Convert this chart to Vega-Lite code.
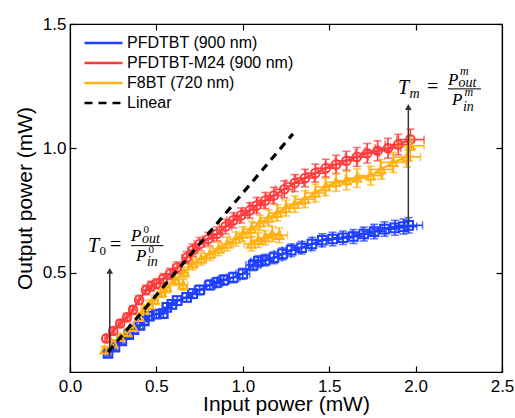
{
  "$schema": "https://vega.github.io/schema/vega-lite/v6.json",
  "width": 432,
  "height": 348,
  "autosize": {"type": "none"},
  "padding": {"left": 70, "top": 24, "right": 13, "bottom": 46},
  "background": "white",
  "datasets": {
    "main": [
      {"s": "PFDTBT (900 nm)", "r": 1, "x": 0.22, "y": 0.175, "ex": 0.01, "ey": 0.012},
      {"s": "PFDTBT (900 nm)", "r": 1, "x": 0.26, "y": 0.2, "ex": 0.01, "ey": 0.012},
      {"s": "PFDTBT (900 nm)", "r": 1, "x": 0.3, "y": 0.225, "ex": 0.012, "ey": 0.013},
      {"s": "PFDTBT (900 nm)", "r": 1, "x": 0.34, "y": 0.25, "ex": 0.013, "ey": 0.013},
      {"s": "PFDTBT (900 nm)", "r": 1, "x": 0.37, "y": 0.27, "ex": 0.014, "ey": 0.014},
      {"s": "PFDTBT (900 nm)", "r": 1, "x": 0.405, "y": 0.287, "ex": 0.016, "ey": 0.014},
      {"s": "PFDTBT (900 nm)", "r": 1, "x": 0.43, "y": 0.305, "ex": 0.017, "ey": 0.015},
      {"s": "PFDTBT (900 nm)", "r": 1, "x": 0.46, "y": 0.325, "ex": 0.018, "ey": 0.015},
      {"s": "PFDTBT (900 nm)", "r": 1, "x": 0.5, "y": 0.333, "ex": 0.02, "ey": 0.016},
      {"s": "PFDTBT (900 nm)", "r": 1, "x": 0.54, "y": 0.335, "ex": 0.021, "ey": 0.016},
      {"s": "PFDTBT (900 nm)", "r": 1, "x": 0.56, "y": 0.36, "ex": 0.022, "ey": 0.017},
      {"s": "PFDTBT (900 nm)", "r": 1, "x": 0.59, "y": 0.372, "ex": 0.024, "ey": 0.017},
      {"s": "PFDTBT (900 nm)", "r": 1, "x": 0.62, "y": 0.387, "ex": 0.025, "ey": 0.018},
      {"s": "PFDTBT (900 nm)", "r": 1, "x": 0.675, "y": 0.4, "ex": 0.027, "ey": 0.018},
      {"s": "PFDTBT (900 nm)", "r": 1, "x": 0.71, "y": 0.415, "ex": 0.028, "ey": 0.019},
      {"s": "PFDTBT (900 nm)", "r": 1, "x": 0.75, "y": 0.43, "ex": 0.03, "ey": 0.019},
      {"s": "PFDTBT (900 nm)", "r": 1, "x": 0.81, "y": 0.45, "ex": 0.032, "ey": 0.02},
      {"s": "PFDTBT (900 nm)", "r": 1, "x": 0.85, "y": 0.46, "ex": 0.034, "ey": 0.02},
      {"s": "PFDTBT (900 nm)", "r": 1, "x": 0.89, "y": 0.47, "ex": 0.035, "ey": 0.021},
      {"s": "PFDTBT (900 nm)", "r": 1, "x": 0.945, "y": 0.48, "ex": 0.038, "ey": 0.021},
      {"s": "PFDTBT (900 nm)", "r": 1, "x": 1.0, "y": 0.495, "ex": 0.04, "ey": 0.022},
      {"s": "PFDTBT (900 nm)", "r": 1, "x": 1.06, "y": 0.53, "ex": 0.042, "ey": 0.022},
      {"s": "PFDTBT (900 nm)", "r": 1, "x": 1.09, "y": 0.545, "ex": 0.044, "ey": 0.023},
      {"s": "PFDTBT (900 nm)", "r": 1, "x": 1.13, "y": 0.55, "ex": 0.045, "ey": 0.023},
      {"s": "PFDTBT (900 nm)", "r": 1, "x": 1.18, "y": 0.56, "ex": 0.047, "ey": 0.024},
      {"s": "PFDTBT (900 nm)", "r": 1, "x": 1.23, "y": 0.575, "ex": 0.049, "ey": 0.024},
      {"s": "PFDTBT (900 nm)", "r": 1, "x": 1.28, "y": 0.59, "ex": 0.051, "ey": 0.025},
      {"s": "PFDTBT (900 nm)", "r": 1, "x": 1.34, "y": 0.6, "ex": 0.054, "ey": 0.025},
      {"s": "PFDTBT (900 nm)", "r": 1, "x": 1.4, "y": 0.615, "ex": 0.056, "ey": 0.026},
      {"s": "PFDTBT (900 nm)", "r": 1, "x": 1.46, "y": 0.63, "ex": 0.058, "ey": 0.026},
      {"s": "PFDTBT (900 nm)", "r": 1, "x": 1.52, "y": 0.635, "ex": 0.061, "ey": 0.027},
      {"s": "PFDTBT (900 nm)", "r": 1, "x": 1.58, "y": 0.64, "ex": 0.063, "ey": 0.027},
      {"s": "PFDTBT (900 nm)", "r": 1, "x": 1.64, "y": 0.645, "ex": 0.066, "ey": 0.028},
      {"s": "PFDTBT (900 nm)", "r": 1, "x": 1.7, "y": 0.655, "ex": 0.068, "ey": 0.028},
      {"s": "PFDTBT (900 nm)", "r": 1, "x": 1.76, "y": 0.665, "ex": 0.07, "ey": 0.029},
      {"s": "PFDTBT (900 nm)", "r": 1, "x": 1.82, "y": 0.675, "ex": 0.073, "ey": 0.029},
      {"s": "PFDTBT (900 nm)", "r": 1, "x": 1.88, "y": 0.68, "ex": 0.075, "ey": 0.03},
      {"s": "PFDTBT (900 nm)", "r": 1, "x": 1.93, "y": 0.685, "ex": 0.077, "ey": 0.03},
      {"s": "PFDTBT (900 nm)", "r": 1, "x": 1.96, "y": 0.69, "ex": 0.08, "ey": 0.031},

      {"s": "PFDTBT-M24 (900 nm)", "r": 1, "x": 0.21, "y": 0.235, "ex": 0.01, "ey": 0.013},
      {"s": "PFDTBT-M24 (900 nm)", "r": 1, "x": 0.25, "y": 0.265, "ex": 0.01, "ey": 0.014},
      {"s": "PFDTBT-M24 (900 nm)", "r": 1, "x": 0.29, "y": 0.295, "ex": 0.012, "ey": 0.015},
      {"s": "PFDTBT-M24 (900 nm)", "r": 1, "x": 0.33, "y": 0.32, "ex": 0.013, "ey": 0.016},
      {"s": "PFDTBT-M24 (900 nm)", "r": 1, "x": 0.365, "y": 0.35, "ex": 0.015, "ey": 0.017},
      {"s": "PFDTBT-M24 (900 nm)", "r": 1, "x": 0.4, "y": 0.39, "ex": 0.016, "ey": 0.018},
      {"s": "PFDTBT-M24 (900 nm)", "r": 1, "x": 0.44, "y": 0.43, "ex": 0.018, "ey": 0.019},
      {"s": "PFDTBT-M24 (900 nm)", "r": 1, "x": 0.47, "y": 0.445, "ex": 0.019, "ey": 0.02},
      {"s": "PFDTBT-M24 (900 nm)", "r": 1, "x": 0.5, "y": 0.455, "ex": 0.02, "ey": 0.02},
      {"s": "PFDTBT-M24 (900 nm)", "r": 1, "x": 0.54, "y": 0.475, "ex": 0.022, "ey": 0.021},
      {"s": "PFDTBT-M24 (900 nm)", "r": 1, "x": 0.58, "y": 0.495, "ex": 0.023, "ey": 0.022},
      {"s": "PFDTBT-M24 (900 nm)", "r": 1, "x": 0.62, "y": 0.52, "ex": 0.025, "ey": 0.023},
      {"s": "PFDTBT-M24 (900 nm)", "r": 1, "x": 0.675, "y": 0.56, "ex": 0.027, "ey": 0.024},
      {"s": "PFDTBT-M24 (900 nm)", "r": 1, "x": 0.71, "y": 0.59, "ex": 0.028, "ey": 0.025},
      {"s": "PFDTBT-M24 (900 nm)", "r": 1, "x": 0.75, "y": 0.615, "ex": 0.03, "ey": 0.026},
      {"s": "PFDTBT-M24 (900 nm)", "r": 1, "x": 0.8, "y": 0.635, "ex": 0.032, "ey": 0.027},
      {"s": "PFDTBT-M24 (900 nm)", "r": 1, "x": 0.85, "y": 0.655, "ex": 0.034, "ey": 0.028},
      {"s": "PFDTBT-M24 (900 nm)", "r": 1, "x": 0.9, "y": 0.685, "ex": 0.036, "ey": 0.029},
      {"s": "PFDTBT-M24 (900 nm)", "r": 1, "x": 0.945, "y": 0.71, "ex": 0.038, "ey": 0.03},
      {"s": "PFDTBT-M24 (900 nm)", "r": 1, "x": 0.99, "y": 0.73, "ex": 0.04, "ey": 0.03},
      {"s": "PFDTBT-M24 (900 nm)", "r": 1, "x": 1.04, "y": 0.75, "ex": 0.042, "ey": 0.031},
      {"s": "PFDTBT-M24 (900 nm)", "r": 1, "x": 1.08, "y": 0.77, "ex": 0.043, "ey": 0.032},
      {"s": "PFDTBT-M24 (900 nm)", "r": 1, "x": 1.13, "y": 0.79, "ex": 0.045, "ey": 0.032},
      {"s": "PFDTBT-M24 (900 nm)", "r": 1, "x": 1.18, "y": 0.81, "ex": 0.047, "ey": 0.033},
      {"s": "PFDTBT-M24 (900 nm)", "r": 1, "x": 1.24, "y": 0.835, "ex": 0.05, "ey": 0.034},
      {"s": "PFDTBT-M24 (900 nm)", "r": 1, "x": 1.3, "y": 0.86, "ex": 0.052, "ey": 0.034},
      {"s": "PFDTBT-M24 (900 nm)", "r": 1, "x": 1.36, "y": 0.88, "ex": 0.054, "ey": 0.035},
      {"s": "PFDTBT-M24 (900 nm)", "r": 1, "x": 1.42, "y": 0.9, "ex": 0.057, "ey": 0.036},
      {"s": "PFDTBT-M24 (900 nm)", "r": 1, "x": 1.48, "y": 0.92, "ex": 0.059, "ey": 0.036},
      {"s": "PFDTBT-M24 (900 nm)", "r": 1, "x": 1.54, "y": 0.935, "ex": 0.062, "ey": 0.037},
      {"s": "PFDTBT-M24 (900 nm)", "r": 1, "x": 1.6, "y": 0.95, "ex": 0.064, "ey": 0.038},
      {"s": "PFDTBT-M24 (900 nm)", "r": 1, "x": 1.66, "y": 0.965, "ex": 0.066, "ey": 0.038},
      {"s": "PFDTBT-M24 (900 nm)", "r": 1, "x": 1.72, "y": 0.98, "ex": 0.069, "ey": 0.039},
      {"s": "PFDTBT-M24 (900 nm)", "r": 1, "x": 1.78, "y": 0.99, "ex": 0.071, "ey": 0.04},
      {"s": "PFDTBT-M24 (900 nm)", "r": 1, "x": 1.84, "y": 1.0, "ex": 0.074, "ey": 0.04},
      {"s": "PFDTBT-M24 (900 nm)", "r": 1, "x": 1.9, "y": 1.015, "ex": 0.076, "ey": 0.041},
      {"s": "PFDTBT-M24 (900 nm)", "r": 1, "x": 1.97, "y": 1.035, "ex": 0.079, "ey": 0.042},

      {"s": "F8BT (720 nm)", "r": 1, "x": 0.2, "y": 0.19, "ex": 0.01, "ey": 0.012},
      {"s": "F8BT (720 nm)", "r": 1, "x": 0.25, "y": 0.215, "ex": 0.01, "ey": 0.013},
      {"s": "F8BT (720 nm)", "r": 1, "x": 0.29, "y": 0.24, "ex": 0.012, "ey": 0.014},
      {"s": "F8BT (720 nm)", "r": 1, "x": 0.33, "y": 0.26, "ex": 0.013, "ey": 0.015},
      {"s": "F8BT (720 nm)", "r": 1, "x": 0.365, "y": 0.28, "ex": 0.015, "ey": 0.016},
      {"s": "F8BT (720 nm)", "r": 1, "x": 0.4, "y": 0.32, "ex": 0.016, "ey": 0.017},
      {"s": "F8BT (720 nm)", "r": 1, "x": 0.43, "y": 0.35, "ex": 0.017, "ey": 0.018},
      {"s": "F8BT (720 nm)", "r": 1, "x": 0.46, "y": 0.37, "ex": 0.018, "ey": 0.019},
      {"s": "F8BT (720 nm)", "r": 1, "x": 0.49, "y": 0.39, "ex": 0.02, "ey": 0.019},
      {"s": "F8BT (720 nm)", "r": 1, "x": 0.53, "y": 0.42, "ex": 0.021, "ey": 0.02},
      {"s": "F8BT (720 nm)", "r": 1, "x": 0.56, "y": 0.44, "ex": 0.022, "ey": 0.021},
      {"s": "F8BT (720 nm)", "r": 1, "x": 0.61, "y": 0.47, "ex": 0.024, "ey": 0.022},
      {"s": "F8BT (720 nm)", "r": 1, "x": 0.66, "y": 0.5, "ex": 0.026, "ey": 0.023},
      {"s": "F8BT (720 nm)", "r": 1, "x": 0.71, "y": 0.535, "ex": 0.028, "ey": 0.024},
      {"s": "F8BT (720 nm)", "r": 1, "x": 0.76, "y": 0.555, "ex": 0.03, "ey": 0.025},
      {"s": "F8BT (720 nm)", "r": 1, "x": 0.81, "y": 0.575, "ex": 0.032, "ey": 0.026},
      {"s": "F8BT (720 nm)", "r": 1, "x": 0.86, "y": 0.595, "ex": 0.034, "ey": 0.027},
      {"s": "F8BT (720 nm)", "r": 1, "x": 0.91, "y": 0.615, "ex": 0.036, "ey": 0.028},
      {"s": "F8BT (720 nm)", "r": 1, "x": 0.96, "y": 0.635, "ex": 0.038, "ey": 0.028},
      {"s": "F8BT (720 nm)", "r": 1, "x": 1.0, "y": 0.655, "ex": 0.04, "ey": 0.029},
      {"s": "F8BT (720 nm)", "r": 1, "x": 1.05, "y": 0.675, "ex": 0.042, "ey": 0.03},
      {"s": "F8BT (720 nm)", "r": 1, "x": 1.1, "y": 0.7, "ex": 0.044, "ey": 0.03},
      {"s": "F8BT (720 nm)", "r": 1, "x": 1.15, "y": 0.72, "ex": 0.046, "ey": 0.031},
      {"s": "F8BT (720 nm)", "r": 1, "x": 1.2, "y": 0.74, "ex": 0.048, "ey": 0.032},
      {"s": "F8BT (720 nm)", "r": 1, "x": 1.25, "y": 0.76, "ex": 0.05, "ey": 0.032},
      {"s": "F8BT (720 nm)", "r": 1, "x": 1.3, "y": 0.775, "ex": 0.052, "ey": 0.033},
      {"s": "F8BT (720 nm)", "r": 1, "x": 1.36, "y": 0.795, "ex": 0.054, "ey": 0.034},
      {"s": "F8BT (720 nm)", "r": 1, "x": 1.42, "y": 0.82, "ex": 0.057, "ey": 0.035},
      {"s": "F8BT (720 nm)", "r": 1, "x": 1.48, "y": 0.845, "ex": 0.059, "ey": 0.035},
      {"s": "F8BT (720 nm)", "r": 1, "x": 1.54, "y": 0.863, "ex": 0.062, "ey": 0.036},
      {"s": "F8BT (720 nm)", "r": 1, "x": 1.6, "y": 0.87, "ex": 0.064, "ey": 0.037},
      {"s": "F8BT (720 nm)", "r": 1, "x": 1.66, "y": 0.88, "ex": 0.066, "ey": 0.037},
      {"s": "F8BT (720 nm)", "r": 1, "x": 1.74, "y": 0.89, "ex": 0.07, "ey": 0.038},
      {"s": "F8BT (720 nm)", "r": 1, "x": 1.8, "y": 0.915, "ex": 0.072, "ey": 0.039},
      {"s": "F8BT (720 nm)", "r": 1, "x": 1.87, "y": 0.943, "ex": 0.075, "ey": 0.04},
      {"s": "F8BT (720 nm)", "r": 1, "x": 1.95, "y": 0.965, "ex": 0.078, "ey": 0.041},
      {"s": "F8BT (720 nm)", "r": 1, "x": 1.97, "y": 1.01, "ex": 0.079, "ey": 0.042},
      {"s": "F8BT (720 nm)", "r": 2, "x": 1.05, "y": 0.615, "ex": 0.042, "ey": 0.028},
      {"s": "F8BT (720 nm)", "r": 2, "x": 1.09, "y": 0.63, "ex": 0.044, "ey": 0.029},
      {"s": "F8BT (720 nm)", "r": 2, "x": 1.13, "y": 0.64, "ex": 0.045, "ey": 0.029},
      {"s": "F8BT (720 nm)", "r": 2, "x": 1.17, "y": 0.655, "ex": 0.047, "ey": 0.03},
      {"s": "F8BT (720 nm)", "r": 2, "x": 1.21, "y": 0.65, "ex": 0.048, "ey": 0.03},
      {"s": "F8BT (720 nm)", "r": 3, "x": 0.655, "y": 0.45, "ex": 0.026, "ey": 0.022}
    ],
    "linear": [
      {"s": "Linear", "x": 0.22, "y": 0.18},
      {"s": "Linear", "x": 1.29, "y": 1.058}
    ]
  },
  "resolve": {"axis": {"x": "independent", "y": "independent"}},
  "layer": [
    {
      "data": {"name": "main"},
      "layer": [
        {
          "mark": {"type": "line", "strokeWidth": 2.2},
          "encoding": {
            "x": {"field": "x", "type": "quantitative", "scale": {"domain": [0, 2.5], "nice": false, "zero": false},
              "axis": {"title": "Input power (mW)", "values": [0, 0.5, 1, 1.5, 2, 2.5], "format": ".1f", "tickSize": -6, "labelPadding": 12, "titlePadding": -1, "labelFlush": false}},
            "y": {"field": "y", "type": "quantitative", "scale": {"domain": [0.1, 1.5], "nice": false, "zero": false},
              "axis": {"title": "Output power (mW)", "values": [0.5, 1, 1.5], "format": ".1f", "tickSize": -6, "labelPadding": 10, "titlePadding": 7, "labelFlush": false}},
            "color": {"field": "s", "type": "nominal",
              "scale": {"domain": ["PFDTBT (900 nm)", "PFDTBT-M24 (900 nm)", "F8BT (720 nm)", "Linear"], "range": ["#1f3fff", "#ff3b3b", "#ffb010", "#000000"]},
              "legend": {"title": null, "orient": "none", "legendX": 13, "legendY": 11}},
            "strokeDash": {"field": "s", "type": "nominal",
              "scale": {"domain": ["PFDTBT (900 nm)", "PFDTBT-M24 (900 nm)", "F8BT (720 nm)", "Linear"], "range": [[1, 0], [1, 0], [1, 0], [8, 6]]},
              "legend": {"title": null, "orient": "none", "legendX": 13, "legendY": 11}},
            "detail": {"field": "r", "type": "nominal"},
            "order": {"field": "x", "type": "quantitative"}
          }
        },
        {
          "mark": {"type": "errorbar", "ticks": {"size": 8}, "thickness": 1.6},
          "encoding": {
            "x": {"field": "x", "type": "quantitative", "title": "Input power (mW)"},
            "xError": {"field": "ex"},
            "y": {"field": "y", "type": "quantitative", "title": "Output power (mW)"},
            "color": {"field": "s", "type": "nominal", "legend": null}
          }
        },
        {
          "mark": {"type": "errorbar", "ticks": {"size": 8}, "thickness": 1.6},
          "encoding": {
            "y": {"field": "y", "type": "quantitative", "title": "Output power (mW)"},
            "yError": {"field": "ey"},
            "x": {"field": "x", "type": "quantitative", "title": "Input power (mW)"},
            "color": {"field": "s", "type": "nominal", "legend": null}
          }
        },
        {
          "mark": {"type": "point", "filled": false, "strokeWidth": 2, "size": 75, "opacity": 1},
          "encoding": {
            "x": {"field": "x", "type": "quantitative", "title": "Input power (mW)"},
            "y": {"field": "y", "type": "quantitative", "title": "Output power (mW)"},
            "color": {"field": "s", "type": "nominal", "legend": null},
            "shape": {"field": "s", "type": "nominal", "legend": null,
              "scale": {"domain": ["PFDTBT (900 nm)", "PFDTBT-M24 (900 nm)", "F8BT (720 nm)"], "range": ["square", "circle", "triangle-up"]}}
          }
        },
        {
          "data": {"values": [{}]},
          "mark": {"type": "rule", "color": "#333333", "strokeWidth": 1.5},
          "encoding": {"x": {"datum": 0.23}, "y": {"datum": 0.167}, "y2": {"datum": 0.5}}
        },
        {
          "data": {"values": [{}]},
          "mark": {"type": "point", "shape": "triangle-up", "filled": true, "color": "#333333", "size": 45, "opacity": 1},
          "encoding": {"x": {"datum": 0.23}, "y": {"datum": 0.507}}
        },
        {
          "data": {"values": [{}]},
          "mark": {"type": "rule", "color": "#333333", "strokeWidth": 1.5},
          "encoding": {"x": {"datum": 1.958}, "y": {"datum": 0.697}, "y2": {"datum": 1.16}}
        },
        {
          "data": {"values": [{}]},
          "mark": {"type": "point", "shape": "triangle-up", "filled": true, "color": "#333333", "size": 45, "opacity": 1},
          "encoding": {"x": {"datum": 1.958}, "y": {"datum": 1.166}}
        },
        {"data": {"values": [{}]}, "mark": {"type": "text", "text": "T", "font": "Liberation Serif", "fontStyle": "italic", "fontSize": 20, "align": "left", "baseline": "alphabetic", "color": "black", "dx": 0, "dy": 0}, "encoding": {"x": {"datum": 0.104}, "y": {"datum": 0.584}}},
        {"data": {"values": [{}]}, "mark": {"type": "text", "text": "0", "font": "Liberation Serif", "fontSize": 13, "align": "left", "baseline": "alphabetic", "color": "black", "dx": 11.5, "dy": 3}, "encoding": {"x": {"datum": 0.104}, "y": {"datum": 0.584}}},
        {"data": {"values": [{}]}, "mark": {"type": "text", "text": "=", "font": "Liberation Serif", "fontSize": 20, "align": "left", "baseline": "alphabetic", "color": "black", "dx": 22, "dy": -1}, "encoding": {"x": {"datum": 0.104}, "y": {"datum": 0.584}}},
        {"data": {"values": [{}]}, "mark": {"type": "text", "text": "P", "font": "Liberation Serif", "fontStyle": "italic", "fontSize": 17, "align": "left", "baseline": "alphabetic", "color": "black", "dx": 43, "dy": -11}, "encoding": {"x": {"datum": 0.104}, "y": {"datum": 0.584}}},
        {"data": {"values": [{}]}, "mark": {"type": "text", "text": "0", "font": "Liberation Serif", "fontSize": 11, "align": "left", "baseline": "alphabetic", "color": "black", "dx": 55.5, "dy": -19}, "encoding": {"x": {"datum": 0.104}, "y": {"datum": 0.584}}},
        {"data": {"values": [{}]}, "mark": {"type": "text", "text": "out", "font": "Liberation Serif", "fontStyle": "italic", "fontSize": 14, "align": "left", "baseline": "alphabetic", "color": "black", "dx": 54, "dy": -8.5}, "encoding": {"x": {"datum": 0.104}, "y": {"datum": 0.584}}},
        {"data": {"values": [{}]}, "mark": {"type": "rule", "color": "black", "strokeWidth": 1}, "encoding": {"x": {"datum": 0.3535}, "x2": {"datum": 0.5405}, "y": {"datum": 0.6084}}},
        {"data": {"values": [{}]}, "mark": {"type": "text", "text": "P", "font": "Liberation Serif", "fontStyle": "italic", "fontSize": 17, "align": "left", "baseline": "alphabetic", "color": "black", "dx": 48, "dy": 9.5}, "encoding": {"x": {"datum": 0.104}, "y": {"datum": 0.584}}},
        {"data": {"values": [{}]}, "mark": {"type": "text", "text": "0", "font": "Liberation Serif", "fontSize": 11, "align": "left", "baseline": "alphabetic", "color": "black", "dx": 60.5, "dy": 1.5}, "encoding": {"x": {"datum": 0.104}, "y": {"datum": 0.584}}},
        {"data": {"values": [{}]}, "mark": {"type": "text", "text": "in", "font": "Liberation Serif", "fontStyle": "italic", "fontSize": 14, "align": "left", "baseline": "alphabetic", "color": "black", "dx": 59, "dy": 14}, "encoding": {"x": {"datum": 0.104}, "y": {"datum": 0.584}}},

        {"data": {"values": [{}]}, "mark": {"type": "text", "text": "T", "font": "Liberation Serif", "fontStyle": "italic", "fontSize": 20, "align": "left", "baseline": "alphabetic", "color": "black", "dx": 0, "dy": 0}, "encoding": {"x": {"datum": 1.898}, "y": {"datum": 1.2189}}},
        {"data": {"values": [{}]}, "mark": {"type": "text", "text": "m", "font": "Liberation Serif", "fontStyle": "italic", "fontSize": 14, "align": "left", "baseline": "alphabetic", "color": "black", "dx": 11.5, "dy": 4}, "encoding": {"x": {"datum": 1.898}, "y": {"datum": 1.2189}}},
        {"data": {"values": [{}]}, "mark": {"type": "text", "text": "=", "font": "Liberation Serif", "fontSize": 20, "align": "left", "baseline": "alphabetic", "color": "black", "dx": 29, "dy": -1}, "encoding": {"x": {"datum": 1.898}, "y": {"datum": 1.2189}}},
        {"data": {"values": [{}]}, "mark": {"type": "text", "text": "P", "font": "Liberation Serif", "fontStyle": "italic", "fontSize": 17, "align": "left", "baseline": "alphabetic", "color": "black", "dx": 50, "dy": -9}, "encoding": {"x": {"datum": 1.898}, "y": {"datum": 1.2189}}},
        {"data": {"values": [{}]}, "mark": {"type": "text", "text": "m", "font": "Liberation Serif", "fontStyle": "italic", "fontSize": 12, "align": "left", "baseline": "alphabetic", "color": "black", "dx": 62, "dy": -19}, "encoding": {"x": {"datum": 1.898}, "y": {"datum": 1.2189}}},
        {"data": {"values": [{}]}, "mark": {"type": "text", "text": "out", "font": "Liberation Serif", "fontStyle": "italic", "fontSize": 14, "align": "left", "baseline": "alphabetic", "color": "black", "dx": 60.5, "dy": -6.5}, "encoding": {"x": {"datum": 1.898}, "y": {"datum": 1.2189}}},
        {"data": {"values": [{}]}, "mark": {"type": "rule", "color": "black", "strokeWidth": 1}, "encoding": {"x": {"datum": 2.1875}, "x2": {"datum": 2.3785}, "y": {"datum": 1.239}}},
        {"data": {"values": [{}]}, "mark": {"type": "text", "text": "P", "font": "Liberation Serif", "fontStyle": "italic", "fontSize": 17, "align": "left", "baseline": "alphabetic", "color": "black", "dx": 54, "dy": 11.5}, "encoding": {"x": {"datum": 1.898}, "y": {"datum": 1.2189}}},
        {"data": {"values": [{}]}, "mark": {"type": "text", "text": "m", "font": "Liberation Serif", "fontStyle": "italic", "fontSize": 12, "align": "left", "baseline": "alphabetic", "color": "black", "dx": 66.5, "dy": 2.5}, "encoding": {"x": {"datum": 1.898}, "y": {"datum": 1.2189}}},
        {"data": {"values": [{}]}, "mark": {"type": "text", "text": "in", "font": "Liberation Serif", "fontStyle": "italic", "fontSize": 14, "align": "left", "baseline": "alphabetic", "color": "black", "dx": 65, "dy": 17}, "encoding": {"x": {"datum": 1.898}, "y": {"datum": 1.2189}}}
      ]
    },
    {
      "data": {"name": "linear"},
      "mark": {"type": "line", "strokeWidth": 3.2},
      "encoding": {
        "x": {"field": "x", "type": "quantitative", "axis": {"orient": "top", "labels": false, "title": null, "values": [0.5, 1, 1.5, 2], "tickSize": -6, "domain": true}},
        "y": {"field": "y", "type": "quantitative", "axis": {"orient": "right", "labels": false, "title": null, "values": [0.5, 1, 1.5], "tickSize": -6, "domain": true}},
        "color": {"field": "s", "type": "nominal", "legend": {"title": null, "orient": "none", "legendX": 13, "legendY": 11}},
        "strokeDash": {"field": "s", "type": "nominal", "legend": {"title": null, "orient": "none", "legendX": 13, "legendY": 11}}
      }
    }
  ],
  "config": {
    "view": {"stroke": "black", "strokeWidth": 1.2},
    "axis": {"grid": false, "domainColor": "black", "domainWidth": 1.2, "tickColor": "black", "tickWidth": 1.2, "labelColor": "black", "titleColor": "black", "labelFont": "Liberation Sans", "titleFont": "Liberation Sans", "labelFontSize": 17, "titleFontSize": 21, "titleFontWeight": "normal"},
    "legend": {"symbolType": "stroke", "symbolSize": 1444, "symbolStrokeWidth": 2.5, "labelFont": "Liberation Sans", "labelFontSize": 16, "labelColor": "black", "labelOffset": 3, "rowPadding": 4, "clipHeight": 16, "padding": 0, "labelLimit": 300}
  }
}
